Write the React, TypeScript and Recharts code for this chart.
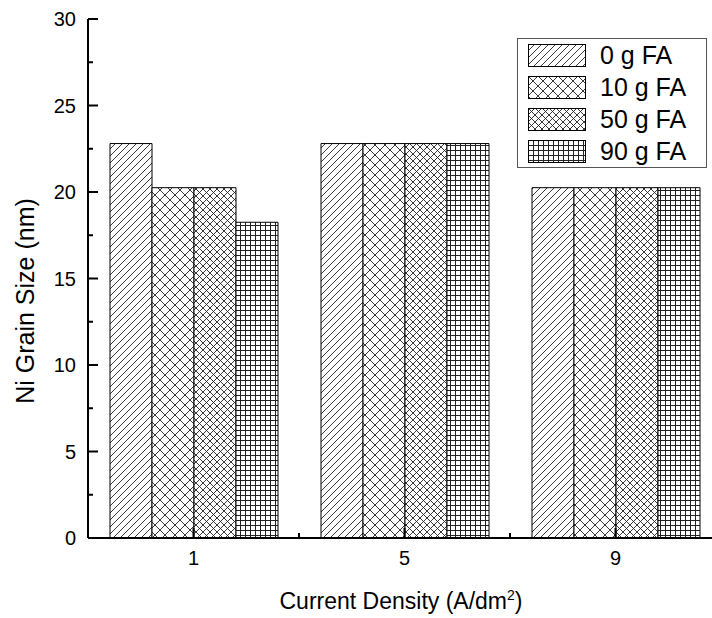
import React from "react";
import { BarChart, Bar, XAxis, YAxis, Legend } from "recharts";

const densities = ["1", "5", "9"];
const fa0 = [22.8, 22.8, 20.25];
const fa10 = [20.25, 22.8, 20.25];
const fa50 = [20.25, 22.8, 20.25];
const fa90 = [18.25, 22.8, 20.25];
const seriesNames = ["0 g FA", "10 g FA", "50 g FA", "90 g FA"];
const yTicks = [0, 2.5, 5, 7.5, 10, 12.5, 15, 17.5, 20, 22.5, 25, 27.5, 30];
const yLabels = [0, 5, 10, 15, 20, 25, 30];

const data = densities.map((d, i) => ({
  cd: d,
  fa0: fa0[i],
  fa10: fa10[i],
  fa50: fa50[i],
  fa90: fa90[i],
}));

const FONT = '"Liberation Sans", Arial, sans-serif';
const TICK_COLOR = "#000";
const W = 740;
const H = 618;
const YW = 88;
const MT = 19;
const MR = 19;
const XH = 80;
const band = (W - YW - MR) / densities.length;

// 各系列のハッチング
const fills: Record<string, string> = {
  fa0: "url(#hatch0)",
  fa10: "url(#hatch10)",
  fa50: "url(#hatch50)",
  fa90: "url(#hatch90)",
};

function Patterns() {
  return (
    <svg width={0} height={0} style={{ position: "absolute" }}>
      <defs>
        <pattern id="hatch0" patternUnits="userSpaceOnUse" width={7} height={7}>
          <rect width={7} height={7} fill="#fff" />
          <path d="M0,7 L7,0 M-2,2 L2,-2 M5,9 L9,5" stroke="#222" strokeWidth={0.9} />
        </pattern>
        <pattern id="hatch10" patternUnits="userSpaceOnUse" width={10} height={10}>
          <rect width={10} height={10} fill="#fff" />
          <path d="M0,0 L10,10 M0,10 L10,0" stroke="#222" strokeWidth={0.9} />
        </pattern>
        <pattern id="hatch50" patternUnits="userSpaceOnUse" width={7} height={7}>
          <rect width={7} height={7} fill="#fff" />
          <path d="M0,0 L7,7 M0,7 L7,0" stroke="#222" strokeWidth={0.9} />
        </pattern>
        <pattern id="hatch90" patternUnits="userSpaceOnUse" width={5} height={5}>
          <rect width={5} height={5} fill="#fff" />
          <path d="M0,0.5 L5,0.5 M0.5,0 L0.5,5" stroke="#222" strokeWidth={1} />
        </pattern>
      </defs>
    </svg>
  );
}

function LeftTick(props: any) {
  const { x, y, payload } = props;
  const major = yLabels.includes(payload.value);
  return (
    <g>
      <line x1={x} x2={x + (major ? 10 : 5)} y1={y} y2={y} stroke={TICK_COLOR} strokeWidth={2} />
      {major && (
        <text x={x - 12} y={y} dy="0.36em" textAnchor="end" fontSize={20} fontFamily={FONT} fill="#000">
          {payload.value}
        </text>
      )}
    </g>
  );
}

function RightTick(props: any) {
  const { x, y, payload } = props;
  const major = yLabels.includes(payload.value);
  return <line x1={x} x2={x - (major ? 10 : 5)} y1={y} y2={y} stroke={TICK_COLOR} strokeWidth={2} />;
}

function BottomTick(props: any) {
  const { x, y, payload, index } = props;
  return (
    <g>
      <line x1={x} x2={x} y1={y} y2={y - 10} stroke={TICK_COLOR} strokeWidth={2} />
      {index < densities.length - 1 && (
        <line x1={x + band / 2} x2={x + band / 2} y1={y} y2={y - 5} stroke={TICK_COLOR} strokeWidth={2} />
      )}
      <text x={x} y={y + 27} textAnchor="middle" fontSize={20} fontFamily={FONT} fill="#000">
        {payload.value}
      </text>
    </g>
  );
}

function TopTick(props: any) {
  const { x, y, index } = props;
  return (
    <g>
      <line x1={x} x2={x} y1={y} y2={y + 10} stroke={TICK_COLOR} strokeWidth={2} />
      {index < densities.length - 1 && (
        <line x1={x + band / 2} x2={x + band / 2} y1={y} y2={y + 5} stroke={TICK_COLOR} strokeWidth={2} />
      )}
    </g>
  );
}

function renderLegend(props: any) {
  const payload = props.payload || [];
  return (
    <div
      style={{
        border: "1px solid #555",
        background: "#fff",
        width: 188,
        fontFamily: FONT,
      }}
    >
      {payload.map((p: any) => (
        <div key={p.value} style={{ display: "flex", alignItems: "center", height: 32, paddingLeft: 10 }}>
          <svg width={58} height={23} style={{ display: "block" }}>
            <rect x={0.5} y={0.5} width={57} height={22} fill={fills[p.dataKey]} stroke="#000" strokeWidth={1} />
          </svg>
          <span style={{ marginLeft: 14, fontSize: 25, color: "#000", lineHeight: "32px" }}>{p.value}</span>
        </div>
      ))}
    </div>
  );
}

export default function App() {
  return (
    <div
      style={{
        position: "absolute",
        left: 0,
        top: 0,
        width: 712,
        height: 618,
        overflow: "hidden",
        background: "#fff",
        fontFamily: FONT,
      }}
    >
      <Patterns />
      <BarChart
        width={W}
        height={H}
        data={data}
        margin={{ top: MT, right: MR, left: 0, bottom: 0 }}
        barGap={0}
      >
        <XAxis
          dataKey="cd"
          height={XH}
          tickSize={0}
          tickMargin={0}
          tick={<BottomTick />}
          tickLine={false}
          axisLine={{ stroke: "#000", strokeWidth: 2 }}
          interval={0}
          label={{
            value: "Current Density (A/dm2)",
            content: () => (
              <text x={401} y={609} textAnchor="middle" fontSize={23} fontFamily={FONT} fill="#000">
                Current Density (A/dm
                <tspan dy={-9} fontSize={14}>2</tspan>
                <tspan dy={9}>)</tspan>
              </text>
            ),
          }}
        />
        <XAxis
          xAxisId="top"
          dataKey="cd"
          orientation="top"
          height={0}
          tickSize={0}
          tickMargin={0}
          tick={<TopTick />}
          tickLine={false}
          axisLine={{ stroke: "#000", strokeWidth: 2 }}
          interval={0}
        />
        <YAxis
          width={YW}
          domain={[0, 30]}
          ticks={yTicks}
          interval={0}
          tickSize={0}
          tickMargin={0}
          tick={<LeftTick />}
          tickLine={false}
          axisLine={{ stroke: "#000", strokeWidth: 2 }}
          label={{
            value: "Ni Grain Size (nm)",
            content: () => (
              <text
                x={34}
                y={301}
                transform="rotate(-90 34 301)"
                textAnchor="middle"
                fontSize={25}
                fontFamily={FONT}
                fill="#000"
              >
                Ni Grain Size (nm)
              </text>
            ),
          }}
        />
        <YAxis
          yAxisId="right"
          orientation="right"
          width={0}
          domain={[0, 30]}
          ticks={yTicks}
          interval={0}
          tickSize={0}
          tickMargin={0}
          tick={<RightTick />}
          tickLine={false}
          axisLine={{ stroke: "#000", strokeWidth: 2 }}
        />
        <Legend
          layout="vertical"
          align="center"
          verticalAlign="middle"
          content={renderLegend}
          wrapperStyle={{ left: 517, top: 38, width: 190 }}
        />
        <Bar dataKey="fa0" name={seriesNames[0]} fill={fills.fa0} stroke="#000" strokeWidth={1} barSize={42} isAnimationActive={false} />
        <Bar dataKey="fa10" name={seriesNames[1]} fill={fills.fa10} stroke="#000" strokeWidth={1} barSize={42} isAnimationActive={false} />
        <Bar dataKey="fa50" name={seriesNames[2]} fill={fills.fa50} stroke="#000" strokeWidth={1} barSize={42} isAnimationActive={false} />
        <Bar dataKey="fa90" name={seriesNames[3]} fill={fills.fa90} stroke="#000" strokeWidth={1} barSize={42} isAnimationActive={false} />
      </BarChart>
    </div>
  );
}
